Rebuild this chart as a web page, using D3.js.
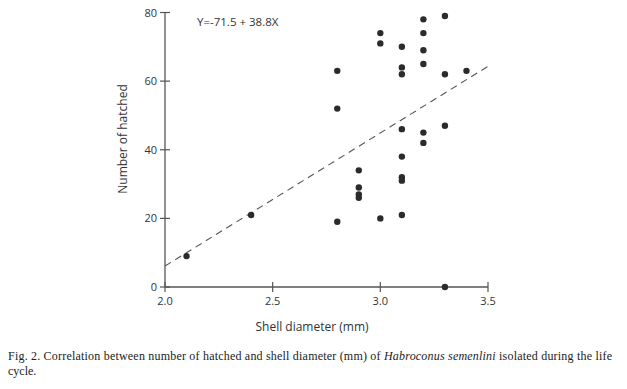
<!DOCTYPE html>
<html>
<head>
<meta charset="utf-8">
<script src="https://cdn.jsdelivr.net/npm/d3@7"></script>
<style>
  body { margin: 0; background: #fff; }
  svg { display: block; }
</style>
</head>
<body>
<div id="chart"></div>
<script>
// Shell diameter (mm) vs number of hatched
var diameters = [2.1, 2.4, 2.8, 2.8, 2.8, 2.9, 2.9, 2.9, 2.9, 3.0, 3.0, 3.0,
                 3.1, 3.1, 3.1, 3.1, 3.1, 3.1, 3.1, 3.1,
                 3.2, 3.2, 3.2, 3.2, 3.2, 3.2, 3.3, 3.3, 3.3, 3.3, 3.4];
var hatched   = [9, 21, 63, 52, 19, 34, 29, 27, 26, 74, 71, 20,
                 70, 64, 62, 46, 38, 32, 31, 21,
                 78, 74, 69, 65, 45, 42, 79, 62, 47, 0, 63];
var xTicks = [2.0, 2.5, 3.0, 3.5];
var yTicks = [0, 20, 40, 60, 80];
var intercept = -71.5, slope = 38.8;

var width = 627, height = 389;
var svg = d3.select('#chart').append('svg')
    .attr('width', width)
    .attr('height', height);

var x = d3.scaleLinear().domain([2.0, 3.5]).range([165, 488]);
var y = d3.scaleLinear().domain([0, 80]).range([287, 12.5]);

var axisColor = '#555';
var labelFont = '"Open Sans", "Noto Sans", sans-serif';

// Axes lines
svg.append('line')
    .attr('x1', x(2.0)).attr('x2', x(3.5))
    .attr('y1', y(0)).attr('y2', y(0))
    .style('stroke', axisColor).style('stroke-width', '1.3px');
svg.append('line')
    .attr('x1', x(2.0)).attr('x2', x(2.0))
    .attr('y1', y(0)).attr('y2', y(80))
    .style('stroke', axisColor).style('stroke-width', '1.3px');

// X ticks and labels
xTicks.forEach(function(t) {
    svg.append('line')
        .attr('x1', x(t)).attr('x2', x(t))
        .attr('y1', y(0) - 5).attr('y2', y(0) + 5)
        .style('stroke', axisColor).style('stroke-width', '1.2px');
    svg.append('text')
        .attr('x', x(t)).attr('y', y(0) + 18)
        .attr('text-anchor', 'middle')
        .style('font-family', labelFont).style('font-size', '11px')
        .style('fill', '#333')
        .text(d3.format('.1f')(t));
});

// Y ticks and labels
yTicks.forEach(function(t) {
    svg.append('line')
        .attr('x1', x(2.0) - 5).attr('x2', x(2.0) + 5)
        .attr('y1', y(t)).attr('y2', y(t))
        .style('stroke', axisColor).style('stroke-width', '1.2px');
    svg.append('text')
        .attr('x', x(2.0) - 8).attr('y', y(t) + 4)
        .attr('text-anchor', 'end')
        .style('font-family', labelFont).style('font-size', '11px')
        .style('fill', '#333')
        .text(t);
});

// Regression line
svg.append('line')
    .attr('x1', x(2.0)).attr('y1', y(intercept + slope * 2.0))
    .attr('x2', x(3.5)).attr('y2', y(intercept + slope * 3.5))
    .style('stroke', '#555').style('stroke-width', '1.1px')
    .style('stroke-dasharray', '7,5');

// Data points
svg.selectAll('circle.pt')
    .data(d3.range(diameters.length))
    .enter()
    .append('circle')
    .attr('class', 'pt')
    .attr('cx', function(i) { return x(diameters[i]); })
    .attr('cy', function(i) { return y(hatched[i]); })
    .attr('r', 3.2)
    .style('fill', '#2b2b2b');

// Equation
svg.append('text')
    .attr('x', 197).attr('y', 26)
    .style('font-family', labelFont).style('font-size', '11.5px')
    .style('fill', '#333')
    .text('Y=-71.5 + 38.8X');

// Axis titles
svg.append('text')
    .attr('x', 312).attr('y', 331)
    .attr('text-anchor', 'middle')
    .style('font-family', labelFont).style('font-size', '12px')
    .style('fill', '#333')
    .text('Shell diameter (mm)');
svg.append('text')
    .attr('transform', 'translate(127,139) rotate(-90)')
    .attr('text-anchor', 'middle')
    .style('font-family', labelFont).style('font-size', '12px')
    .style('fill', '#333')
    .text('Number of hatched');

// Caption
var captionFont = '"Liberation Serif", "Times New Roman", serif';
var cap1 = svg.append('text')
    .attr('x', 8).attr('y', 360)
    .attr('textLength', 604).attr('lengthAdjust', 'spacing')
    .style('font-family', captionFont).style('font-size', '12px')
    .style('fill', '#222');
cap1.append('tspan').text('Fig. 2. Correlation between number of hatched and shell diameter (mm) of ');
cap1.append('tspan').style('font-style', 'italic').text('Habroconus semenlini');
cap1.append('tspan').text(' isolated during the life');
svg.append('text')
    .attr('x', 8).attr('y', 375)
    .style('font-family', captionFont).style('font-size', '12px')
    .style('fill', '#222')
    .text('cycle.');
</script>
</body>
</html>
